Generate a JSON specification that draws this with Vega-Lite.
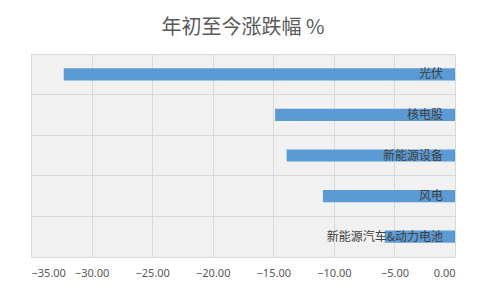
{
  "$schema": "https://vega.github.io/schema/vega-lite/v6.json",
  "width": 424,
  "height": 203,
  "autosize": "none",
  "padding": {"left": 31, "top": 54, "right": 26, "bottom": 32},
  "background": "white",
  "title": {
    "text": "年初至今涨跌幅 %",
    "font": "Noto Sans CJK SC",
    "fontSize": 20,
    "fontWeight": "normal",
    "color": "#595959",
    "anchor": "middle",
    "offset": 16
  },
  "config": {
    "view": {"stroke": "#d9d9d9", "fill": "#f1f1f1"}
  },
  "data": {
    "values": [
      {"sector": "光伏", "change": -32.3},
      {"sector": "核电股", "change": -14.85},
      {"sector": "新能源设备", "change": -13.9},
      {"sector": "风电", "change": -10.9},
      {"sector": "新能源汽车&动力电池", "change": -5.8}
    ]
  },
  "encoding": {
    "y": {
      "field": "sector",
      "type": "nominal",
      "sort": null,
      "scale": {"paddingInner": 0, "paddingOuter": 0},
      "axis": {
        "title": null,
        "labels": false,
        "ticks": false,
        "domain": false,
        "grid": true,
        "gridColor": "#d9d9d9",
        "bandPosition": 0
      }
    }
  },
  "layer": [
    {
      "mark": {"type": "bar", "color": "#5b9bd5", "height": {"band": 0.3}},
      "encoding": {
        "x": {
          "field": "change",
          "type": "quantitative",
          "scale": {"domain": [-35, 0], "nice": false},
          "axis": {
            "title": null,
            "values": [-35, -30, -25, -20, -15, -10, -5, 0],
            "format": ".2f",
            "domain": false,
            "ticks": false,
            "grid": true,
            "gridColor": "#d9d9d9",
            "labelFont": "Noto Sans",
            "labelFontSize": 11,
            "labelColor": "#595959",
            "labelPadding": 10
          }
        }
      }
    },
    {
      "mark": {
        "type": "text",
        "align": "right",
        "baseline": "middle",
        "dx": -12,
        "font": "Noto Sans CJK SC",
        "fontSize": 12,
        "color": "#404040"
      },
      "encoding": {
        "x": {"datum": 0},
        "text": {"field": "sector"}
      }
    }
  ]
}
